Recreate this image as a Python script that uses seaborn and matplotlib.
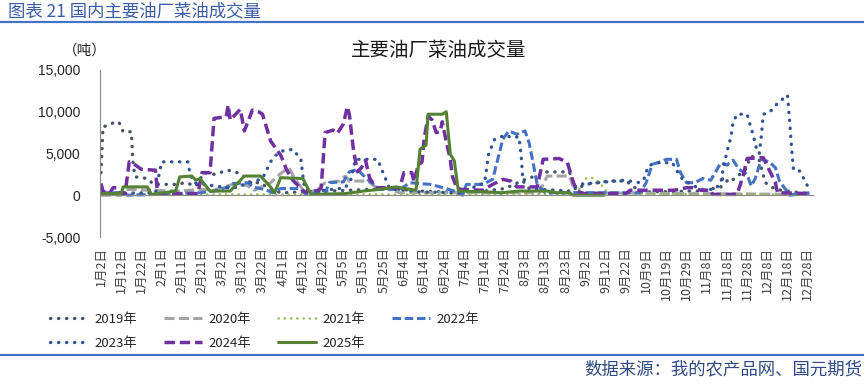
import pandas as pd
import matplotlib
matplotlib.use("Agg")
import matplotlib.pyplot as plt
import seaborn as sns
from matplotlib.ticker import MultipleLocator
from matplotlib.lines import Line2D

# ==============================
# DATA (day index = trading-day position)
# ==============================
tick_labels = ["1月2日", "1月12日", "1月22日", "2月1日", "2月11日", "2月21日", "3月2日",
               "3月12日", "3月22日", "4月1日", "4月12日", "4月22日", "5月5日", "5月15日",
               "5月25日", "6月4日", "6月14日", "6月24日", "7月4日", "7月14日", "7月24日",
               "8月3日", "8月13日", "8月23日", "9月2日", "9月12日", "9月22日", "10月9日",
               "10月19日", "10月29日", "11月8日", "11月18日", "11月28日", "12月8日",
               "12月18日", "12月28日"]

day_2019 = [0, 1, 4, 7, 9, 11, 15, 16, 17, 23, 26, 37, 42, 47, 51, 56, 63, 69, 74, 79,
            83, 89, 113, 143, 158, 183, 200, 211, 217, 221, 232, 235, 240, 252, 260, 263,
            267, 297, 307, 308, 311, 319, 322, 326, 329, 334, 346, 351]
val_2019 = [2700, 8200, 8400, 8800, 8700, 7600, 7600, 3500, 2200, 2000, 1300, 1300, 1500,
            1100, 2700, 2500, 3000, 2600, 1500, 1500, 800, 300, 500, 800, 500, 300, 800,
            2000, 2400, 2800, 2800, 700, 1300, 1700, 1700, 1200, 400, 500, 1000, 2200,
            1500, 3000, 4700, 4200, 1500, 700, 300, 200]

day_2020 = [0, 10, 12, 23, 39, 49, 56, 65, 72, 76, 80, 84, 89, 93, 96, 101, 107, 111,
            118, 121, 123, 132, 136, 141, 148, 217, 221, 232, 235, 351]
val_2020 = [0, 0, 700, 600, 500, 700, 600, 1300, 1200, 600, 1100, 1500, 2600, 3300, 2000,
            300, 600, 1500, 1700, 2300, 1700, 1700, 1000, 800, 300, 300, 2300, 2300, 300, 100]

day_2021 = [0, 235, 237, 240, 243, 246, 249, 251, 351]
val_2021 = [100, 100, 800, 2000, 2100, 1700, 900, 200, 100]

day_2022 = [0, 12, 13, 27, 49, 56, 63, 65, 73, 75, 81, 85, 89, 99, 101, 111, 113, 120,
            123, 127, 131, 135, 138, 148, 153, 163, 168, 171, 176, 179, 181, 189, 194,
            199, 202, 206, 210, 212, 214, 216, 220, 267, 270, 273, 277, 280, 285, 287,
            290, 294, 298, 302, 307, 310, 313, 316, 320, 322, 324, 327, 331, 334, 336,
            339, 341, 351]
val_2022 = [300, 300, 0, 100, 300, 500, 1000, 1400, 1500, 1000, 700, 300, 800, 800, 200,
            200, 1500, 1600, 2800, 3100, 2100, 1300, 700, 700, 1500, 1300, 1000, 800, 400,
            0, 1300, 1300, 1900, 6700, 7700, 7300, 7700, 6300, 3900, 1300, 300, 300, 1500,
            3700, 4000, 4300, 4300, 2700, 1500, 1500, 2000, 1800, 3900, 3600, 4200, 3100,
            2500, 1100, 2000, 4300, 4000, 3300, 1700, 700, 0, 300]

day_2023 = [0, 27, 28, 30, 43, 44, 46, 54, 65, 80, 84, 86, 90, 95, 99, 100, 101, 108,
            121, 124, 126, 137, 140, 143, 158, 178, 190, 192, 195, 198, 201, 203, 207,
            208, 209, 212, 232, 237, 246, 259, 267, 269, 271, 275, 283, 285, 288, 293,
            297, 304, 307, 308, 310, 312, 313, 315, 320, 321, 323, 325, 326, 327, 328,
            331, 335, 340, 341, 342, 343, 346, 349, 351]
val_2023 = [200, 300, 1500, 4000, 4000, 2700, 1500, 1200, 800, 2000, 4000, 4700, 5300,
            5500, 4300, 2300, 700, 500, 900, 2000, 4300, 4300, 2500, 800, 400, 300, 1500,
            5000, 6700, 7000, 7200, 6900, 7000, 5000, 1700, 800, 500, 1300, 1500, 1800,
            1500, 2000, 3500, 3900, 3900, 3000, 1900, 1200, 700, 700, 1500, 3000, 5200,
            7000, 8700, 9700, 9700, 8800, 7200, 5200, 5000, 7000, 9700, 9900, 11000,
            12000, 9000, 5700, 3000, 2900, 1600, 500]

day_2024 = [0, 1, 4, 6, 8, 9, 12, 14, 16, 20, 27, 28, 48, 50, 54, 56, 62, 63, 64, 69,
            71, 75, 78, 80, 84, 89, 92, 95, 99, 101, 107, 109, 111, 115, 117, 120, 122,
            123, 125, 127, 129, 131, 133, 136, 148, 150, 154, 155, 157, 159, 160, 162,
            164, 166, 168, 169, 171, 173, 174, 176, 178, 189, 194, 199, 203, 206, 216,
            219, 227, 231, 234, 236, 239, 260, 262, 284, 290, 293, 297, 302, 303, 315,
            318, 320, 328, 330, 334, 335, 351]
val_2024 = [1400, 500, 100, 900, 900, 100, 300, 4000, 3800, 3100, 3000, 200, 200, 2700,
            2700, 9200, 9400, 10800, 9000, 10300, 7700, 10200, 10000, 9700, 6500, 4800,
            3000, 1800, 800, 400, 500, 800, 7500, 7800, 7400, 8500, 10600, 9700, 5500,
            2800, 3300, 4200, 2100, 900, 900, 2700, 2700, 1600, 3500, 4000, 6700, 9500,
            9000, 7500, 7600, 8800, 6400, 4300, 2300, 1000, 700, 600, 1300, 1900, 1700,
            1000, 1000, 4300, 4400, 3900, 1500, 500, 200, 200, 600, 600, 900, 900, 600,
            600, 100, 100, 2300, 4400, 4500, 3500, 1500, 300, 200]

day_2025 = [0, 10, 11, 23, 25, 37, 39, 45, 47, 49, 54, 64, 71, 79, 84, 86, 89, 100, 104,
            121, 130, 138, 146, 156, 158, 161, 162, 169, 171, 173, 175, 177, 191, 198,
            207, 221, 226, 232, 234, 249]
val_2025 = [200, 200, 1000, 1000, 100, 500, 2200, 2300, 1800, 2000, 500, 500, 2300, 2300,
            1000, 300, 2100, 2000, 100, 200, 500, 700, 1000, 600, 5500, 6000, 9700, 9700,
            10000, 4900, 4100, 500, 400, 300, 500, 500, 300, 300, 0, 0]

y_ticks = [-5000, 0, 5000, 10000, 15000]
y_labels = ["-5,000", "0", "5,000", "10,000", "15,000"]

# ==============================
# STYLE PER SERIES
# ==============================
series = [
    ("2019年", day_2019, val_2019, "#44546A", 2.4, (0.1, 2.3), "round"),
    ("2020年", day_2020, val_2020, "#A5A5A5", 2.2, (3.3, 1.4), "butt"),
    ("2021年", day_2021, val_2021, "#9BBB59", 1.8, (0.1, 2.4), "round"),
    ("2022年", day_2022, val_2022, "#4472C4", 2.2, (2.8, 1.2), "butt"),
    ("2023年", day_2023, val_2023, "#2F5597", 2.4, (0.1, 2.3), "round"),
    ("2024年", day_2024, val_2024, "#7030A0", 2.5, (3.0, 1.4), "butt"),
    ("2025年", day_2025, val_2025, "#548235", 2.2, None, "butt"),
]

sns.set_style("white")
plt.rcParams["font.family"] = ["Noto Sans CJK SC", "DejaVu Sans"]

fig = plt.figure(figsize=(8.64, 3.84), dpi=100)
ax = fig.add_axes([0.1157, 0.3828, 0.825, 0.435])

handles = []
for name, days, vals, color, lw, dash, cap in series:
    df = pd.DataFrame({"day": days, "value": vals})
    ls = "-" if dash is None else (0, dash)
    sns.lineplot(data=df, x="day", y="value", ax=ax, color=color, linewidth=lw,
                 linestyle=ls, estimator=None, dash_capstyle=cap, legend=False)
    handles.append(Line2D([], [], color=color, linewidth=lw, linestyle=ls,
                          dash_capstyle=cap, label=name))

ax.set_xlim(-0.5, 352.5)
ax.set_ylim(-5000, 15000)
ax.set_xlabel("")
ax.set_ylabel("")

# category axis crosses at 0, labels sit at the bottom
ax.spines["bottom"].set_position(("data", 0))
for s in ["top", "right"]:
    ax.spines[s].set_visible(False)
for s in ["bottom", "left"]:
    ax.spines[s].set_color("#898989")
    ax.spines[s].set_linewidth(0.8)

ax.set_xticks(range(0, 10 * len(tick_labels), 10))
ax.set_xticklabels(tick_labels, rotation=90, fontsize=9, color="#404040")
ax.xaxis.set_minor_locator(MultipleLocator(1))
ax.tick_params(axis="x", which="both", direction="out", length=2.2, width=0.6,
               color="#898989", pad=35)

ax.set_yticks(y_ticks)
ax.set_yticklabels(y_labels, fontsize=10, color="#262626", fontfamily="Liberation Sans")
ax.tick_params(axis="y", direction="in", length=3, width=0.6, color="#898989", pad=14)

# titles and frame decorations
fig.text(8 / 864, 1 - 11.5 / 384, "图表 21 国内主要油厂菜油成交量", fontsize=12.5,
         color="#3B5CA6", ha="left", va="center")
fig.add_artist(Line2D([0, 1], [1 - 22 / 384, 1 - 22 / 384], color="#4472C4",
                      linewidth=1.6, transform=fig.transFigure))
fig.text(0.508, 1 - 50 / 384, "主要油厂菜油成交量", fontsize=14, color="#1a1a1a",
         ha="center", va="center")
fig.text(85 / 864, 1 - 51 / 384, "（吨）", fontsize=10.5, color="#262626",
         ha="center", va="center")
fig.add_artist(Line2D([0, 1], [1 - 354.5 / 384, 1 - 354.5 / 384], color="#4472C4",
                      linewidth=1.6, transform=fig.transFigure))
fig.text(862 / 864, 1 - 369 / 384, "数据来源：我的农产品网、国元期货", fontsize=12.5,
         color="#2F4A85", ha="right", va="center")

# legend is filled column by column, so order handles to read row-wise
order = [0, 4, 1, 5, 2, 6, 3]
fig.legend(handles=[handles[i] for i in order], loc="upper left",
           bbox_to_anchor=(50 / 864, 1 - 313 / 384),
           ncol=4, frameon=False, fontsize=9.5, handlelength=2.9, handletextpad=0.5,
           columnspacing=2.0, labelspacing=0.8, borderpad=0, borderaxespad=0)

plt.savefig("out.png", dpi=100)
